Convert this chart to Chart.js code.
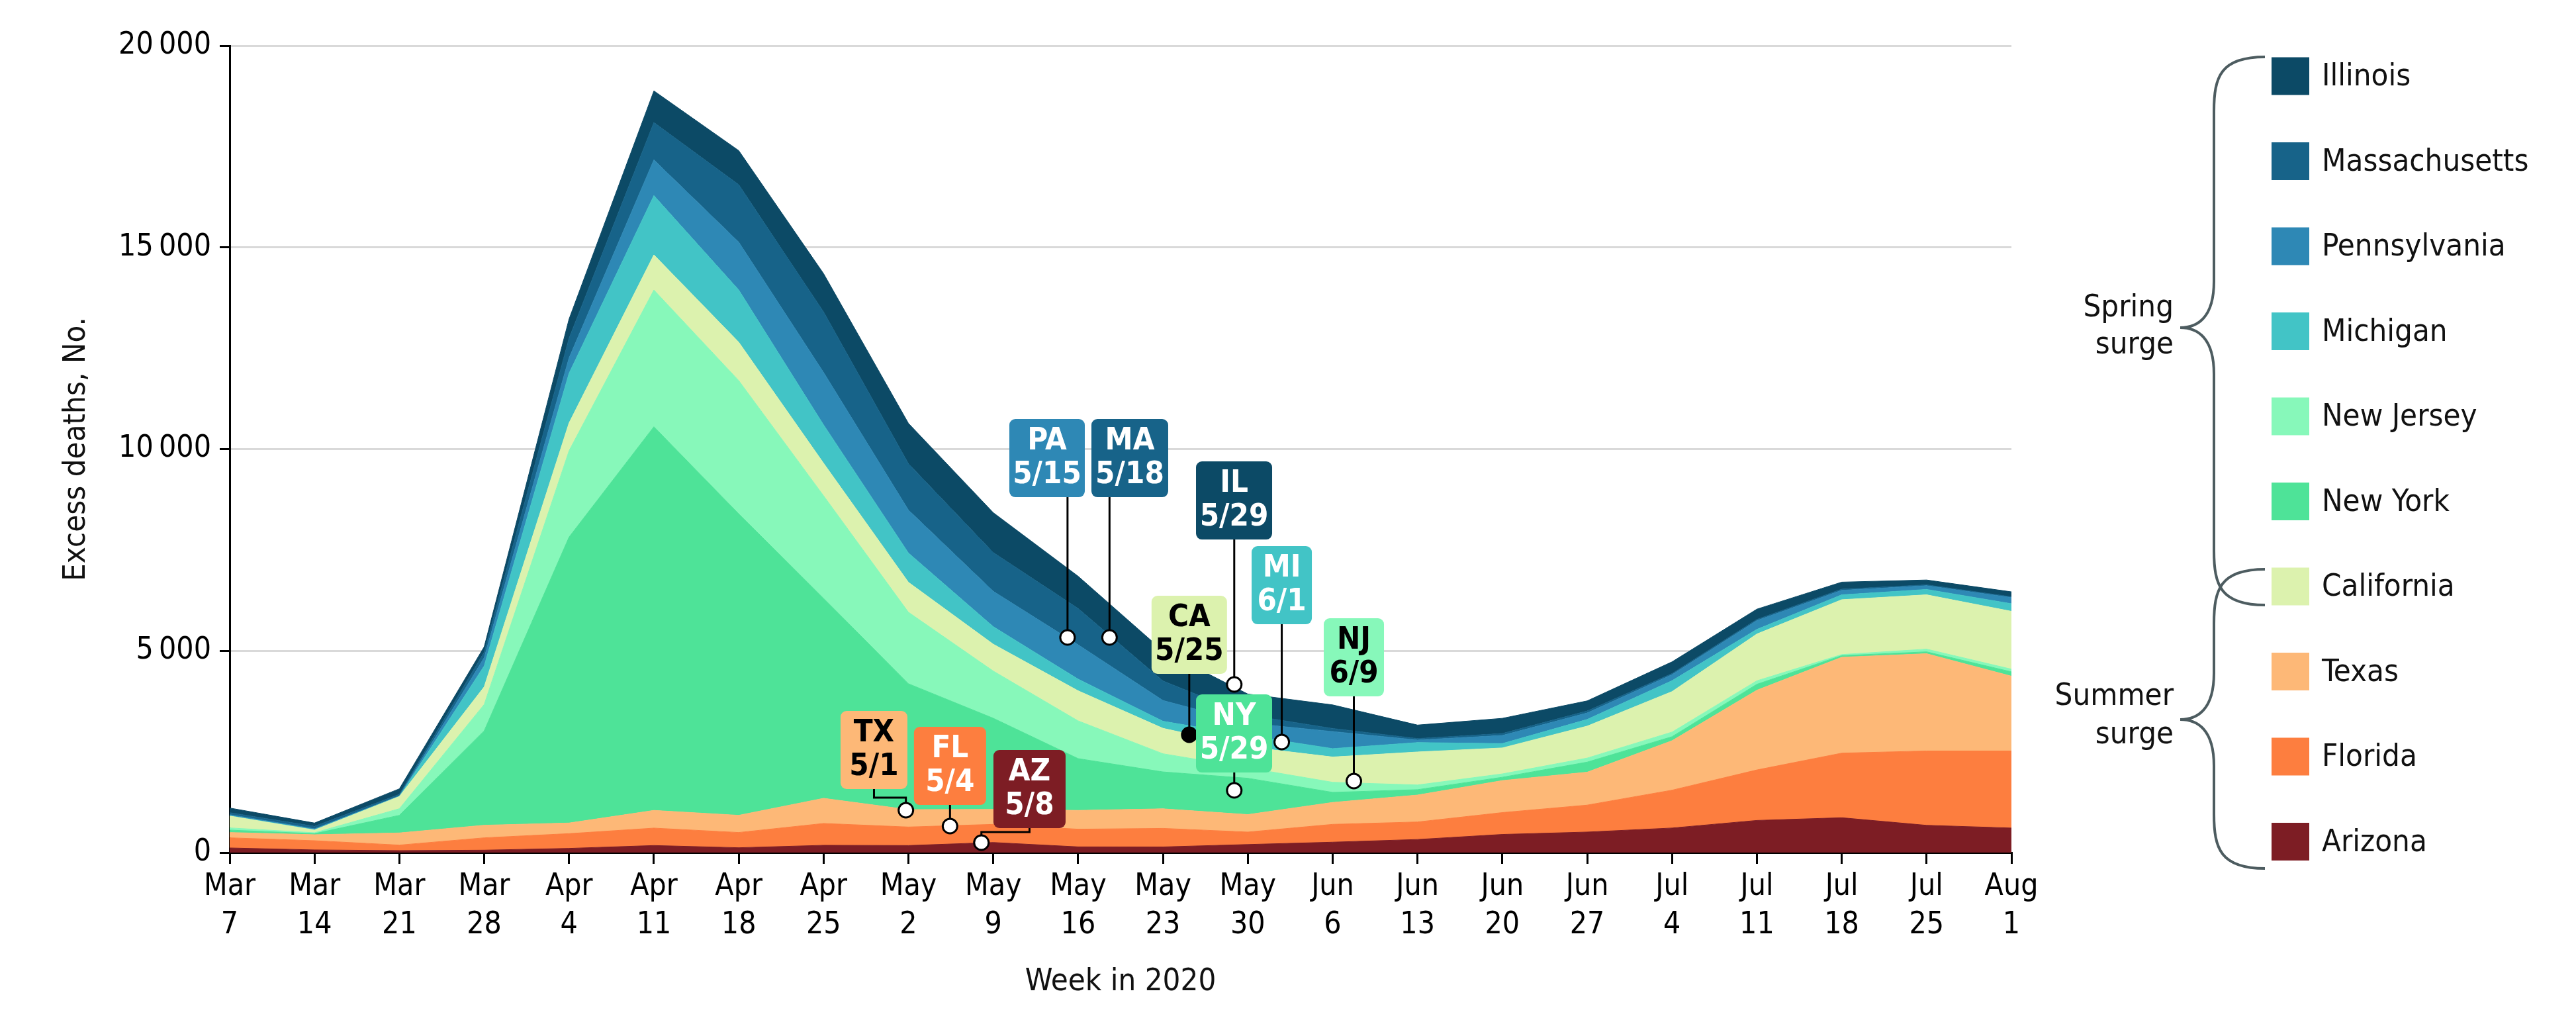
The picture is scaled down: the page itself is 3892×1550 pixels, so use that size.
<!DOCTYPE html>
<html>
<head>
<meta charset="utf-8">
<script src="https://cdn.jsdelivr.net/npm/chart.js@4/dist/chart.umd.min.js"></script>
<style>
  html, body { margin: 0; padding: 0; background: #ffffff; }
  #wrap { width: 3892px; height: 1550px; }
</style>
</head>
<body>
<div id="wrap"><canvas id="c" width="3892" height="1550"></canvas></div>
<script>
// ---------- DATA ----------
const weeks = ['Mar 7','Mar 14','Mar 21','Mar 28','Apr 4','Apr 11','Apr 18','Apr 25','May 2','May 9','May 16',
               'May 23','May 30','Jun 6','Jun 13','Jun 20','Jun 27','Jul 4','Jul 11','Jul 18','Jul 25','Aug 1'];

const arizona       = [115, 66, 49, 60, 104, 175, 120, 180, 175, 250, 142, 140, 200, 258, 325, 450, 509, 609, 797, 864, 676, 609];
const florida       = [251, 229, 137, 306, 366, 432, 378, 542, 459, 450, 438, 460, 309, 442, 434, 542, 668, 938, 1252, 1601, 1842, 1909];
const texas         = [132, 148, 301, 312, 263, 438, 426, 623, 431, 370, 465, 485, 433, 543, 667, 793, 816, 1226, 1976, 2377, 2411, 1855];
const newYork       = [60, 27, 437, 2342, 7087, 9510, 7471, 4955, 3120, 2260, 1285, 915, 901, 250, 134, 83, 250, 100, 147, 40, 47, 107];
const newJersey     = [54, 22, 164, 653, 2140, 3390, 3305, 2545, 1773, 1170, 935, 450, 257, 250, 116, 83, 100, 114, 87, 27, 67, 67];
const california    = [293, 66, 301, 436, 690, 870, 950, 805, 742, 665, 745, 630, 520, 626, 818, 643, 792, 1003, 1159, 1359, 1346, 1433];
const michigan      = [10, 12, 6, 517, 1230, 1470, 1295, 950, 725, 435, 290, 175, 280, 208, 233, 108, 165, 270, 114, 121, 134, 188];
const pennsylvania  = [25, 20, 10, 204, 380, 885, 1185, 1300, 1065, 875, 850, 515, 310, 423, 63, 200, 160, 150, 218, 111, 92, 152];
const massachusetts = [50, 61, 39, 136, 490, 925, 1425, 1500, 1150, 960, 900, 485, 200, 77, 37, 50, 50, 30, 30, 30, 22, 22];
const illinois      = [115, 82, 137, 136, 475, 785, 845, 950, 1000, 990, 800, 745, 520, 584, 334, 376, 250, 288, 254, 174, 120, 121];

const yTicks = [0, 5000, 10000, 15000, 20000];

// stacking order (bottom -> top)
const seriesNames  = ['Arizona','Florida','Texas','New York','New Jersey','California','Michigan','Pennsylvania','Massachusetts','Illinois'];
const seriesValues = [arizona, florida, texas, newYork, newJersey, california, michigan, pennsylvania, massachusetts, illinois];
// legend order (top -> bottom)
const legendOrder  = ['Illinois','Massachusetts','Pennsylvania','Michigan','New Jersey','New York','California','Texas','Florida','Arizona'];

// peak annotations: state, date label, the series it belongs to, marker position (week index, deaths)
const peakStates = ['PA','MA','IL','MI','NJ','CA','NY','TX','FL','AZ'];
const peakDates  = ['5/15','5/18','5/29','6/1','6/9','5/25','5/29','5/1','5/4','5/8'];
const peakSeries = ['Pennsylvania','Massachusetts','Illinois','Michigan','New Jersey','California','New York','Texas','Florida','Arizona'];
const peakWeek   = [9.875, 10.37, 11.84, 12.40, 13.25, 11.31, 11.84, 7.97, 8.49, 8.86];
const peakValue  = [5332, 5332, 4167, 2740, 1772, 2920, 1542, 1050, 656, 246];

// ---------- STYLE ----------
const FONT = "'DejaVu Sans Condensed', 'Liberation Sans Narrow', 'Roboto Condensed', 'DejaVu Sans', sans-serif";
const colors = {
  'Illinois': '#0c4a66',
  'Massachusetts': '#176389',
  'Pennsylvania': '#2e88b5',
  'Michigan': '#42c4c6',
  'New Jersey': '#87f8ba',
  'New York': '#4ee398',
  'California': '#dcf2ae',
  'Texas': '#fdb877',
  'Florida': '#fd7e3f',
  'Arizona': '#7d1d24'
};
const darkText = {'California': true, 'New Jersey': true, 'Texas': true};

// box layout for annotations: center week, top value, width px, connector elbow (value)
const boxLayout = [
  {bx: 9.634,  bt: 10746, w: 114},
  {bx: 10.609, bt: 10746, w: 116},
  {bx: 11.838, bt: 9696,  w: 115},
  {bx: 12.40,  bt: 7596,  w: 91},
  {bx: 13.25,  bt: 5808,  w: 91},
  {bx: 11.31,  bt: 6366,  w: 114},
  {bx: 11.838, bt: 3921,  w: 115},
  {bx: 7.594,  bt: 3511,  w: 101, elbow: 1362},
  {bx: 8.49,   bt: 3117,  w: 109},
  {bx: 9.427,  bt: 2543,  w: 109, elbow: 509}
];

const datasets = seriesNames.map((name, i) => ({
  label: name,
  data: seriesValues[i],
  backgroundColor: colors[name],
  borderColor: colors[name],
  borderWidth: 1,
  pointRadius: 0,
  tension: 0,
  fill: i === 0 ? 'origin' : '-1'
}));

const annotationPlugin = {
  id: 'peaks',
  afterDatasetsDraw(chart) {
    const ctx = chart.ctx;
    const xs = chart.scales.x, ys = chart.scales.y;
    const boxH = 118;
    peakStates.forEach((st, i) => {
      const L = boxLayout[i];
      const cx = xs.getPixelForValue(peakWeek[i]);
      const cy = ys.getPixelForValue(peakValue[i]);
      const bxc = xs.getPixelForValue(L.bx);
      const bt = ys.getPixelForValue(L.bt);
      const bb = bt + boxH;
      ctx.save();
      ctx.strokeStyle = '#000';
      ctx.lineWidth = 3;
      ctx.beginPath();
      if (L.elbow !== undefined) {
        const ey = ys.getPixelForValue(L.elbow);
        ctx.moveTo(bxc, bb);
        ctx.lineTo(bxc, ey);
        ctx.lineTo(cx, ey);
        ctx.lineTo(cx, cy);
      } else {
        ctx.moveTo(cx, bb);
        ctx.lineTo(cx, cy);
      }
      ctx.stroke();
      const col = colors[peakSeries[i]];
      ctx.fillStyle = col;
      ctx.beginPath();
      ctx.roundRect(bxc - L.w / 2, bt, L.w, boxH, 9);
      ctx.fill();
      ctx.fillStyle = darkText[peakSeries[i]] ? '#000' : '#fff';
      ctx.font = 'bold 47px ' + FONT;
      ctx.textAlign = 'center';
      ctx.textBaseline = 'middle';
      ctx.fillText(st, bxc, bt + 34);
      ctx.fillText(peakDates[i], bxc, bt + 85);
      ctx.beginPath();
      ctx.arc(cx, cy, 11, 0, Math.PI * 2);
      ctx.fillStyle = peakSeries[i] === 'California' ? '#000' : '#fff';
      ctx.fill();
      ctx.lineWidth = 3;
      ctx.strokeStyle = '#000';
      ctx.stroke();
      ctx.restore();
    });
  }
};

const legendPlugin = {
  id: 'sideLegend',
  afterDraw(chart) {
    const ctx = chart.ctx;
    ctx.save();
    const sx = 3432, sw = 57, tx = 3508, y0 = 115, dy = 128.5;
    ctx.font = '47px ' + FONT;
    ctx.textAlign = 'left';
    ctx.textBaseline = 'middle';
    legendOrder.forEach((name, i) => {
      const y = y0 + dy * i;
      ctx.fillStyle = colors[name];
      ctx.fillRect(sx, y - sw / 2, sw, sw);
      ctx.fillStyle = '#111';
      ctx.fillText(name, tx, y + 2);
    });
    ctx.strokeStyle = '#4d5c60';
    ctx.lineWidth = 4;
    function brace(top, bottom, tipY, endX, spineX, tipX) {
      ctx.beginPath();
      ctx.moveTo(endX, top);
      ctx.bezierCurveTo(spineX + 10, top, spineX, top + 30, spineX, top + 82);
      ctx.lineTo(spineX, tipY - 70);
      ctx.bezierCurveTo(spineX, tipY - 15, spineX - 25, tipY, tipX, tipY);
      ctx.bezierCurveTo(spineX - 25, tipY, spineX, tipY + 15, spineX, tipY + 70);
      ctx.lineTo(spineX, bottom - 82);
      ctx.bezierCurveTo(spineX, bottom - 30, spineX + 10, bottom, endX, bottom);
      ctx.stroke();
    }
    brace(86, 914, 495, 3422, 3345, 3294);
    brace(860, 1312, 1087, 3422, 3345, 3294);
    ctx.fillStyle = '#111';
    ctx.textAlign = 'right';
    ctx.fillText('Spring', 3284, 466);
    ctx.fillText('surge', 3284, 522);
    ctx.fillText('Summer', 3284, 1053);
    ctx.fillText('surge', 3284, 1111);
    ctx.restore();
  }
};

new Chart(document.getElementById('c'), {
  type: 'line',
  data: { labels: weeks.map(w => w.split(' ')), datasets },
  plugins: [annotationPlugin, legendPlugin],
  options: {
    responsive: false,
    animation: false,
    devicePixelRatio: 1,
    layout: { padding: { top: 69, right: 853, left: 0, bottom: 0 } },
    plugins: { legend: { display: false }, tooltip: { enabled: false } },
    elements: { point: { radius: 0 }, line: { tension: 0 } },
    scales: {
      x: {
        offset: false,
        grid: { drawOnChartArea: false, color: '#000', tickLength: 17, lineWidth: 3 },
        border: { display: true, color: '#000', width: 3 },
        ticks: { font: { family: FONT, size: 46, lineHeight: 1.26 }, color: '#000', padding: 6, maxRotation: 0, autoSkip: false },
        title: { display: true, text: 'Week in 2020', font: { family: FONT, size: 47 }, color: '#111', padding: { top: 0, bottom: 38 } },
        afterFit(s) { s.height = 262; }
      },
      y: {
        stacked: true,
        min: 0, max: 20000,
        afterBuildTicks(s) { s.ticks = yTicks.map(v => ({ value: v })); },
        ticks: {
          font: { family: FONT, size: 46 }, color: '#000', padding: 13,
          callback: v => v === 0 ? '0' : String(v).replace(/(\d)(?=(\d{3})+$)/g, '$1\u2009')
        },
        grid: { color: '#d9d9d9', lineWidth: 3, tickColor: '#000', tickLength: 15, tickWidth: 3 },
        border: { display: true, color: '#000', width: 3 },
        title: { display: true, text: 'Excess deaths, No.', font: { family: FONT, size: 47 }, color: '#111', padding: { top: 88, bottom: 0 } },
        afterFit(s) { s.width = 347; }
      }
    }
  }
});
</script>
</body>
</html>
